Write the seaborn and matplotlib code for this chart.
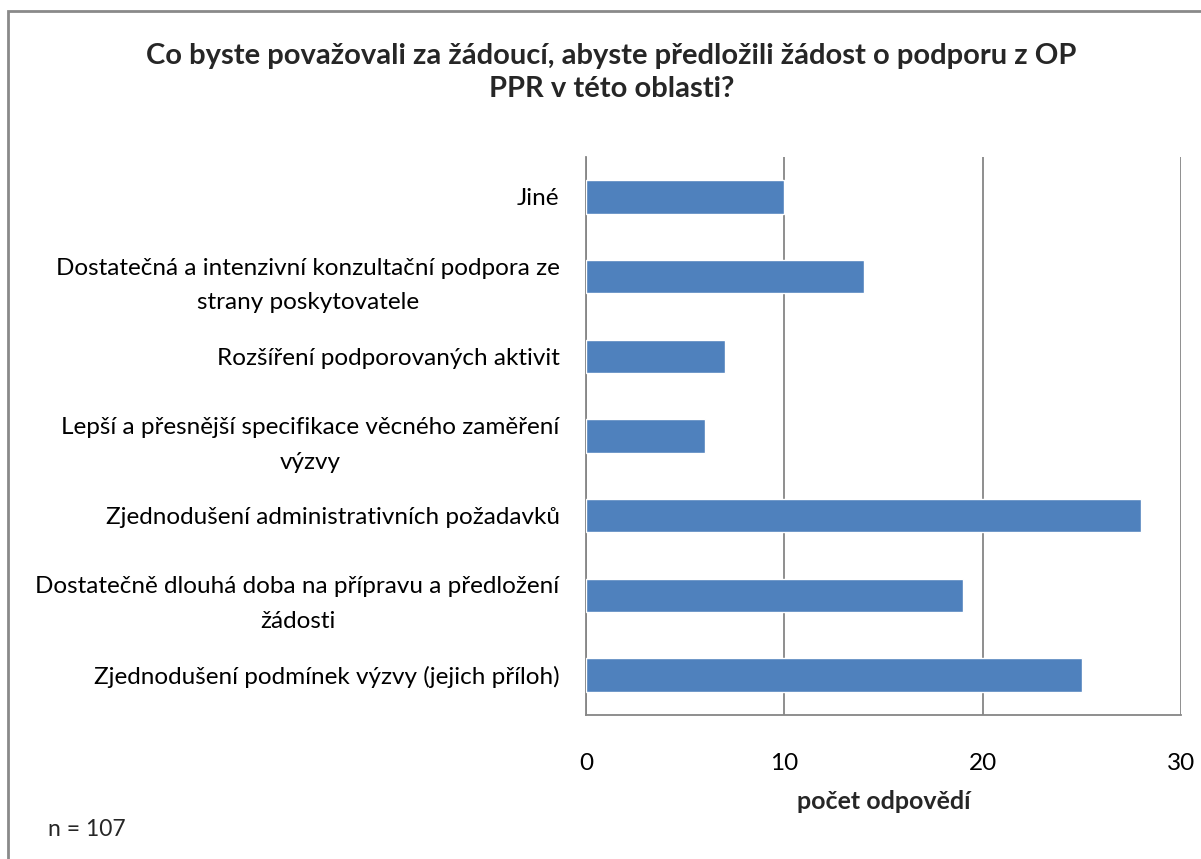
import matplotlib.pyplot as plt
import seaborn as sns
import pandas as pd
from matplotlib.patches import Rectangle

excel_blue = '#4F81BD'
grid_gray = '#868686'

categories = [
    'Jiné',
    'Dostatečná a intenzivní konzultační podpora ze\nstrany poskytovatele',
    'Rozšíření podporovaných aktivit',
    'Lepší a přesnější specifikace věcného zaměření\nvýzvy',
    'Zjednodušení administrativních požadavků',
    'Dostatečně dlouhá doba na přípravu a předložení\nžádosti',
    'Zjednodušení podmínek výzvy (jejich příloh)',
]
counts = [10, 14, 7, 6, 28, 19, 25]
x_ticks = [0, 10, 20, 30]

title = 'Co byste považovali za žádoucí, abyste předložili žádost o podporu z OP\nPPR v této oblasti?'

sns.set_theme(style='white')
plt.rcParams['font.family'] = ['Lato', 'DejaVu Sans']

df = pd.DataFrame({'kategorie': categories, 'pocet': counts})

fig = plt.figure(figsize=(12.01, 8.59), dpi=100)
ax = fig.add_axes([586/1201, 1 - 715/859, (1181-586)/1201, (715-157)/859])

sns.barplot(data=df, x='pocet', y='kategorie', color=excel_blue, saturation=1,
            width=0.42, ax=ax, zorder=3)

ax.set_xlim(0, 30)
ax.set_xticks(x_ticks)
ax.xaxis.grid(True, color=grid_gray, lw=1.3, zorder=0)
ax.yaxis.grid(False)

for s in ['top', 'right']:
    ax.spines[s].set_visible(False)
for s in ['left', 'bottom']:
    ax.spines[s].set_color(grid_gray)
    ax.spines[s].set_linewidth(1.3)

ax.tick_params(axis='both', length=0, labelsize=17.5, colors='black')
ax.tick_params(axis='x', pad=27)
ax.set_yticks(range(len(categories)))
ax.set_yticklabels(categories, multialignment='center', linespacing=1.8)
ax.tick_params(axis='y', pad=19)

ax.set_ylabel('')
ax.set_xlabel('počet odpovědí', fontsize=18, fontweight='bold', labelpad=12)

fig.text(0.509, 1 - 72.5/859, title, ha='center', va='center', fontsize=21,
         fontweight='bold', linespacing=1.35)
fig.text(48/1201, 1 - 830/859, 'n = 107', fontsize=16.5, va='center')

fig.add_artist(Rectangle((8/1201, -0.05), 1.0, 1 - 11/859 + 0.05,
                         transform=fig.transFigure, fill=False,
                         ec='#8a8a8a', lw=2))

plt.savefig('out.png', dpi=100)
